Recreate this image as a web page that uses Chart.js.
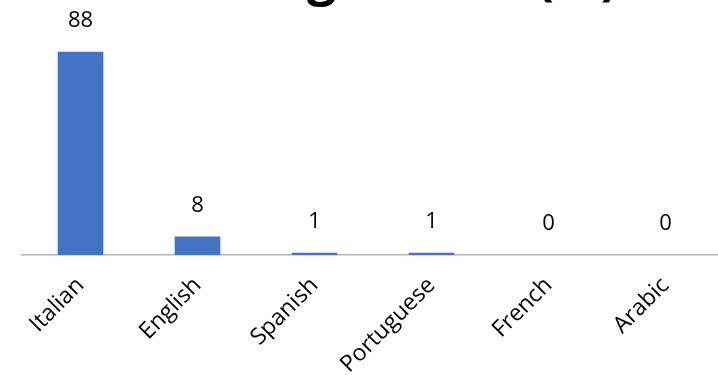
<!DOCTYPE html>
<html>
<head>
<meta charset="utf-8">
<script src="https://cdn.jsdelivr.net/npm/chart.js@4/dist/chart.umd.min.js"></script>
<style>
  html, body { margin: 0; padding: 0; background: #fff; overflow: hidden; }
  #wrap { position: absolute; left: 0; top: 0; width: 724px; height: 389px; }
</style>
</head>
<body>
<div id="wrap"><canvas id="chart" width="724" height="389"></canvas></div>
<script>
const chartTitle = "Reading Choice (%)";
const languages = ["Italian", "English", "Spanish", "Portuguese", "French", "Arabic"];
const shares = [88, 8, 1, 1, 0, 0];
const yMax = 100;

Chart.defaults.font.family = "'Open Sans', 'Noto Sans', sans-serif";
Chart.defaults.color = "#000";

// value printed above each bar
const valueLabels = {
  id: "valueLabels",
  afterDatasetsDraw(chart) {
    const ctx = chart.ctx;
    const meta = chart.getDatasetMeta(0);
    ctx.save();
    ctx.font = "22px 'Open Sans', sans-serif";
    ctx.fillStyle = "#000";
    ctx.textAlign = "center";
    ctx.textBaseline = "alphabetic";
    meta.data.forEach((bar, i) => {
      ctx.fillText(String(shares[i]), bar.x, bar.y - 25);
    });
    ctx.restore();
  }
};

// big bold heading, sits mostly above the top edge
const heading = {
  id: "heading",
  afterDraw(chart) {
    const { ctx, chartArea } = chart;
    ctx.save();
    ctx.font = "bold 52px 'Open Sans', sans-serif";
    ctx.fillStyle = "#000";
    ctx.textAlign = "center";
    ctx.textBaseline = "alphabetic";
    ctx.fillText(chartTitle, (chartArea.left + chartArea.right) / 2, chartArea.top - 30);
    ctx.restore();
  }
};

new Chart(document.getElementById("chart"), {
  type: "bar",
  data: {
    labels: languages,
    datasets: [{
      data: shares,
      backgroundColor: "#4472C4",
      borderWidth: 0,
      categoryPercentage: 1,
      barPercentage: 0.39
    }]
  },
  options: {
    responsive: false,
    animation: false,
    layout: { padding: { left: 22, right: 0, top: 24, bottom: 0 } },
    plugins: {
      legend: { display: false },
      tooltip: { enabled: false },
      title: { display: false }
    },
    scales: {
      x: {
        grid: { display: false, drawTicks: false },
        border: { display: true, color: "#b4b4b4", width: 1.5 },
        ticks: {
          minRotation: 45,
          maxRotation: 45,
          padding: 17,
          font: { size: 23 },
          color: "#000"
        },
        afterFit(scale) { scale.height = 134; }
      },
      y: {
        display: false,
        min: 0,
        max: yMax
      }
    }
  },
  plugins: [valueLabels, heading]
});
</script>
</body>
</html>
